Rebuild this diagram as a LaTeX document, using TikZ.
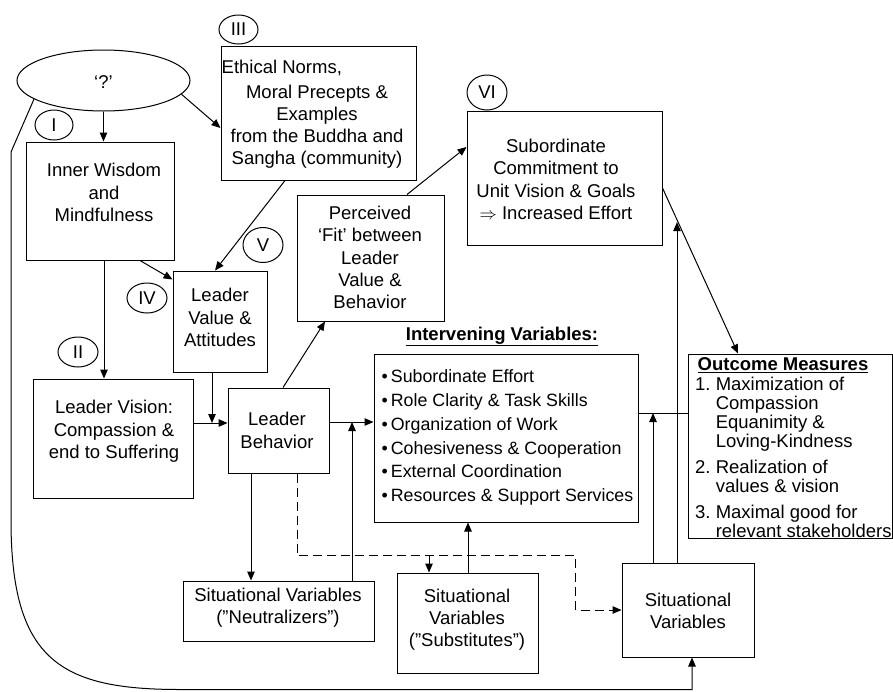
\documentclass[tikz,border=0pt]{standalone}
\usepackage{fontspec}
\setmainfont{Liberation Sans}
\usetikzlibrary{arrows.meta,shapes.geometric,calc}
\frenchspacing

\begin{document}
\begin{tikzpicture}[x=1pt,y=-1pt,
  every node/.style={font=\fontsize{18.5}{22.3}\selectfont},
  box/.style n args={2}{draw,rectangle,line width=1pt,inner sep=0pt,
    minimum width=#1,minimum height=#2},
  tag/.style={draw,ellipse,line width=1pt,inner sep=0pt,
    minimum width=40pt,minimum height=31pt},
  txt/.style={inner sep=0pt,align=center},
  ln/.style={draw,line width=1pt},
  arr/.style={ln,-{Triangle[length=9pt,width=7.5pt]}},
  dsh/.style={ln,dash pattern=on 9pt off 5pt},
  dsharr/.style={dsh,-{Triangle[length=9pt,width=7.5pt]}}
]
\useasboundingbox (0,0) rectangle (893,691);

% ---------- boxes ----------
\node[draw,ellipse,line width=1pt,inner sep=0pt,minimum width=173pt,minimum height=61pt]
  (q) at (103.5,80.5) {};
\node[txt] (qt) at (103.5,82) {‘?’};

\node[box={148pt}{118pt}] (iw)  at (100,201) {};
\node[box={195pt}{134pt}] (eth) at (318.5,113) {};
\node[box={195pt}{134pt}] (sub) at (564.5,178) {};
\node[box={147pt}{126pt}] (pf)  at (370.5,258) {};
\node[box={94pt}{101pt}]  (lva) at (220,321.5) {};
\node[box={160pt}{119pt}] (lvi) at (113,438.5) {};
\node[box={101pt}{85pt}]  (lb)  at (278.5,430.5) {};
\node[box={264pt}{168pt}] (iv)  at (506,438) {};
\node[box={191pt}{60pt}]  (neu) at (278.5,611) {};
\node[box={141pt}{100pt}] (subs) at (467.5,623) {};
\node[box={132pt}{94pt}]  (sv)  at (688,610) {};
\node[box={204pt}{184pt}] (om)  at (790,446) {};

% ---------- numbered tags ----------
\node[tag,minimum width=38pt,minimum height=30pt] (tI) at (54,125) {I};
\node[tag,minimum width=39pt,minimum height=29pt] (tIII) at (238.5,29.5) {III};
\node[tag,minimum height=35pt] (tVI) at (487,92.5) {VI};
\node[tag,minimum height=35pt] (tV) at (263,245) {V};
\node[tag,minimum height=30pt] (tIV) at (147,298) {IV};
\node[tag,minimum height=30pt] (tII) at (78,352) {II};

% ---------- texts ----------
\node[txt] (iwt) at (104,192.5) {Inner Wisdom\\and\\Mindfulness};
\node[txt,anchor=west] (etha) at (221.5,68) {Ethical Norms,};
\node[txt,font=\fontsize{18.5}{22}\selectfont] (ethb) at (317,127)
  {Moral Precepts \&\\Examples\\from the Buddha and\\Sangha (community)};
\node[txt] (subt) at (556,179.5)
  {Subordinate\\Commitment to\\Unit Vision \& Goals\\$\Rightarrow$ Increased Effort};
\node[txt,font=\fontsize{18.5}{22.2}\selectfont] (pft) at (370,257.5)
  {Perceived\\‘Fit’ between\\Leader\\Value \&\\Behavior};
\node[txt] (lvat) at (220,317.5) {Leader\\Value \&\\Attitudes};
\node[txt] (lvit) at (114,431.5) {Leader Vision:\\Compassion \&\\end to Suffering};
\node[txt] (lbt) at (277,430.5) {Leader\\Behavior};
\node[inner sep=0pt,anchor=base] (ivh) at (502,340)
  {\bfseries\underline{Intervening Variables:}};
\node[txt,align=left,anchor=west,font=\fontsize{17.8}{23.8}\selectfont] (ivt) at (381.5,437.5)
  {\textbullet\,Subordinate Effort\\
   \textbullet\,Role Clarity \& Task Skills\\
   \textbullet\,Organization of Work\\
   \textbullet\,Cohesiveness \& Cooperation\\
   \textbullet\,External Coordination\\
   \textbullet\,Resources \& Support Services};
\node[txt] (neut) at (278,608) {Situational Variables\\(”Neutralizers”)};
\node[txt] (subst) at (467,619.5) {Situational\\Variables\\(”Substitutes”)};
\node[txt] (svt) at (688,611) {Situational\\Variables};
\node[inner sep=0pt,anchor=base] (omh) at (783,370.6)
  {\bfseries\underline{Outcome Measures}};
\node[txt,align=left,anchor=west,font=\fontsize{18.5}{19}\selectfont] (omt) at (695,457)
  {1. Maximization of\\
   \hphantom{1.\ }Compassion\\
   \hphantom{1.\ }Equanimity \&\\
   \hphantom{1.\ }Loving-Kindness\\[7pt]
   2. Realization of\\
   \hphantom{2.\ }values \& vision\\[7pt]
   3. Maximal good for\\
   \hphantom{3.\ }relevant stakeholders};

% ---------- junction points ----------
\coordinate (lvout) at ([yshift=7.5pt]lb.west);
\coordinate (lvaB)  at ([xshift=-8pt]lva.south);
\coordinate (ivin)  at ([yshift=16pt]iv.west);
\coordinate (neuT)  at ([xshift=73.5pt]neu.north);
\coordinate (lbB1)  at ([xshift=-27.5pt]lb.south);
\coordinate (lbB2)  at ([xshift=18.5pt]lb.south);
\coordinate (dj)    at ([yshift=-82pt]lbB2);
\coordinate (dturn) at ([xshift=-46pt]sv.west);
\coordinate (subsT) at ([xshift=-38.5pt]subs.north);
\coordinate (subsU) at ([xshift=0.5pt]subs.north);
\coordinate (ivout) at ([yshift=25pt]iv.east);
\coordinate (svT1)  at ([xshift=-35pt]sv.north);
\coordinate (svT2)  at ([xshift=-11pt]sv.north);
\coordinate (svB)   at ([xshift=4pt]sv.south);
\coordinate (subR)  at ([yshift=-10pt]sub.east);
\coordinate (omT)   at ([xshift=-52pt]om.north);
\coordinate (mod)   at ($(subR)!0.206!(omT)$);
\coordinate (iwB1)  at ([xshift=4pt]iw.south);

% ---------- connectors ----------
\draw[arr] (q.south) -- (q.south |- iw.north);
\draw[arr] (q.-10) -- ([yshift=-15pt]eth.west);
\draw[arr] (iwB1) -- (iwB1 |- lvi.north);
\draw[arr] ([xshift=40pt]iw.south) -- ([yshift=-9pt]lva.north west);
\draw[arr] ([xshift=-33.5pt]eth.south) -- ([xshift=-5pt]lva.north);
\draw[arr] (lvi.east |- lvout) -- (lvout);
\draw[arr] (lvaB) -- (lvaB |- lvout);
\draw[arr] ([xshift=4.5pt]lb.north) -- ([xshift=-45.5pt]pf.south);
\draw[arr] ([xshift=36.5pt]pf.north) -- ([yshift=31pt]sub.west);
\draw[arr] (lb.east |- ivin) -- (ivin);
\draw[arr] (neuT) -- (neuT |- ivin);
\draw[arr] (lbB1) -- (lbB1 |- neu.north);
\draw[dsharr] (lbB2) -- (dj) -- (dj -| dturn) -- (dturn) -- (sv.west);
\draw[dsharr] (dj -| subsT) -- (subsT);
\draw[arr] (subsU) -- (subsU |- iv.south);
\draw[ln] (ivout) -- (om.west |- ivout);
\draw[arr] (svT1) -- (svT1 |- ivout);
\draw[arr] (subR) -- (omT);
\draw[arr] (svT2) -- (svT2 |- mod);
\draw[arr] (q.195) -- (11,152) -- (11,520)
  .. controls (11,660) and (60,689.5) .. (180,689.5) -- (692,689.5) -- (svB);
\end{tikzpicture}
\end{document}
